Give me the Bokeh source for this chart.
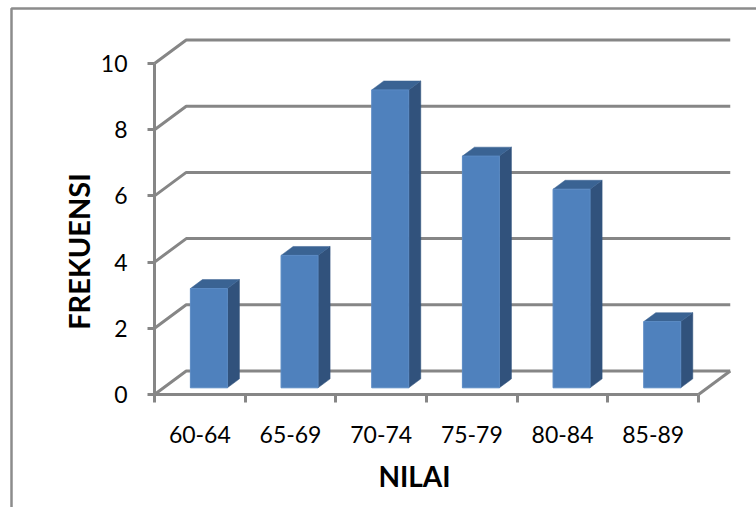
from bokeh.plotting import figure
from bokeh.models import Range1d, LinearAxis, FixedTicker
from bokeh.embed import file_html
from bokeh.resources import INLINE

# ---- data ----
categories = ["60-64", "65-69", "70-74", "75-79", "80-84", "85-89"]
frequencies = [3, 4, 9, 7, 6, 2]
y_ticks = [0, 2, 4, 6, 8, 10]
x_title = "NILAI"
y_title = "FREKUENSI"

# ---- styling / geometry ----
W, H = 756, 507
PX_X = 90.67          # px per category
PX_Y = 33.1           # px per value unit
ORIG_X, ORIG_Y = 154, 394   # canvas position of (0, 0)
DX, DY = 0.35, 0.71   # back-wall offset (data units)
BAR_W = 0.408
F0, DEPTH = 0.285, 0.38
GRAY = "#868686"
FRONT, TOP, SIDE = "#4F81BD", "#3A6393", "#31527C"
FONT = "Lato"
Y_TITLE_CENTER = 4.32   # vertical centre of y title (value units)
X_TITLE_CENTER = 2.87   # horizontal centre of x title (category units)

x0 = -ORIG_X / PX_X
x1 = (W - ORIG_X) / PX_X
y0 = -(H - ORIG_Y) / PX_Y
y1 = ORIG_Y / PX_Y

p = figure(width=W, height=H, x_range=Range1d(x0, x1), y_range=Range1d(y0, y1),
           x_axis_type=None, y_axis_type=None, output_backend="svg",
           toolbar_location=None, min_border=0, title=None)
p.outline_line_color = None
p.grid.visible = False
p.background_fill_color = "white"
p.border_fill_color = "white"

# outer chart border (left and top edges)
bx = x0 + 11 / PX_X
by = y1 - 8 / PX_Y
p.line([bx, bx, x1], [y0, by, by], line_color="#8C8C8C", line_width=2.5)

ncat = len(categories)
top_v = y_ticks[-1]

# back wall / side wall gridlines
gx, gy = [], []
for v in y_ticks:
    gx.append([0, DX, ncat + DX])
    gy.append([v, v + DY, v + DY])
p.multi_line(gx, gy, line_color=GRAY, line_width=3)
# floor right edge
p.line([ncat, ncat + DX], [0, DY], line_color=GRAY, line_width=3)

# bars
sx, sy, tx, ty = [], [], [], []
fl, fr, fb, ft = [], [], [], []
for i, v in enumerate(frequencies):
    c = i + 0.5 + F0 * DX
    xl, xr = c - BAR_W / 2, c + BAR_W / 2
    yb = F0 * DY
    yt = v + yb
    ddx, ddy = DEPTH * DX, DEPTH * DY
    sx.append([xr, xr + ddx, xr + ddx, xr])
    sy.append([yb, yb + ddy, yt + ddy, yt])
    tx.append([xl, xr, xr + ddx, xl + ddx])
    ty.append([yt, yt, yt + ddy, yt + ddy])
    fl.append(xl); fr.append(xr); fb.append(yb); ft.append(yt)

p.patches(sx, sy, fill_color=SIDE, line_color=SIDE, line_width=0.5)
p.patches(tx, ty, fill_color=TOP, line_color=TOP, line_width=0.5)
p.quad(left=fl, right=fr, bottom=fb, top=ft, fill_color=FRONT,
       line_color="#5A8AC4", line_width=1)

# y axis (line, ticks, labels)
yax = LinearAxis(fixed_location=0, bounds=(0, top_v),
                 ticker=FixedTicker(ticks=y_ticks, minor_ticks=[]))
yax.axis_line_color = GRAY
yax.axis_line_width = 3
yax.major_tick_line_color = GRAY
yax.major_tick_line_width = 3
yax.major_tick_out = 7
yax.major_tick_in = 0
yax.minor_tick_out = 0
yax.major_label_text_font = FONT
yax.major_label_text_font_size = "23px"
yax.major_label_text_color = "black"
yax.major_label_standoff = 20
p.add_layout(yax, "left")

# y axis title
yax_t = LinearAxis(fixed_location=0, bounds=(0, 2 * Y_TITLE_CENTER),
                   ticker=FixedTicker(ticks=[], minor_ticks=[]))
yax_t.axis_line_color = None
yax_t.major_tick_line_color = None
yax_t.major_tick_out = 0
yax_t.major_tick_in = 0
yax_t.minor_tick_out = 0
yax_t.major_label_standoff = 0
yax_t.axis_label = y_title
yax_t.axis_label_text_font = FONT
yax_t.axis_label_text_font_style = "bold"
yax_t.axis_label_text_font_size = "29px"
yax_t.axis_label_text_color = "black"
yax_t.axis_label_standoff = 59
p.add_layout(yax_t, "left")

# x axis: tick marks at category boundaries
xax_t = LinearAxis(fixed_location=0, bounds=(0, ncat),
                   ticker=FixedTicker(ticks=list(range(ncat + 1)), minor_ticks=[]))
xax_t.axis_line_color = GRAY
xax_t.axis_line_width = 3
xax_t.major_tick_line_color = GRAY
xax_t.major_tick_line_width = 3
xax_t.major_tick_out = 8
xax_t.major_tick_in = 0
xax_t.minor_tick_out = 0
xax_t.major_label_overrides = {i: "" for i in range(ncat + 1)}
p.add_layout(xax_t, "below")

# x axis: category labels between ticks, plus title
centers = [i + 0.5 for i in range(ncat)]
xax_l = LinearAxis(fixed_location=0, bounds=(0, 2 * X_TITLE_CENTER),
                   ticker=FixedTicker(ticks=centers, minor_ticks=[]))
xax_l.axis_line_color = None
xax_l.major_tick_line_color = None
xax_l.major_tick_out = 0
xax_l.major_tick_in = 0
xax_l.minor_tick_out = 0
xax_l.major_label_overrides = {c: lab for c, lab in zip(centers, categories)}
xax_l.major_label_text_font = FONT
xax_l.major_label_text_font_size = "23px"
xax_l.major_label_text_color = "black"
xax_l.major_label_standoff = 31
xax_l.axis_label = x_title
xax_l.axis_label_text_font = FONT
xax_l.axis_label_text_font_style = "bold"
xax_l.axis_label_text_font_size = "28px"
xax_l.axis_label_text_color = "black"
xax_l.axis_label_standoff = 13
p.add_layout(xax_l, "below")

open("out.html", "w").write(file_html(p, INLINE))
